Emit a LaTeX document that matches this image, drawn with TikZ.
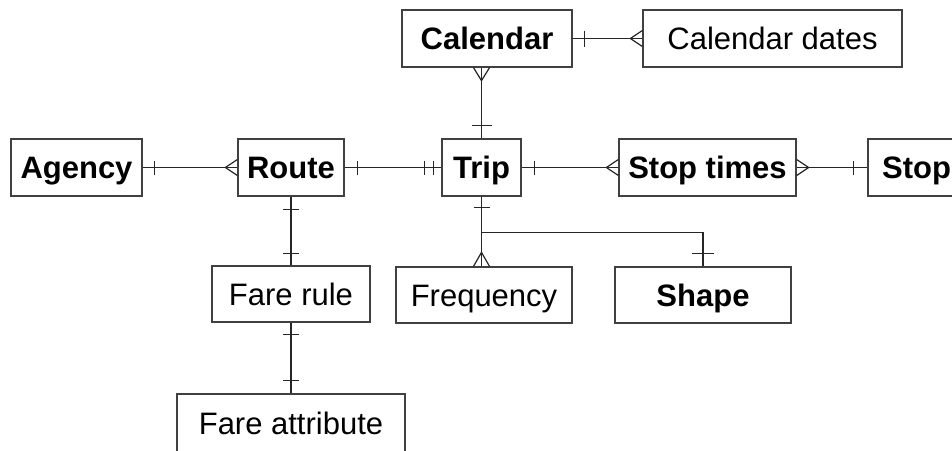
\documentclass[tikz,border=0pt]{standalone}
\usepackage{fontspec}
\setmainfont{Liberation Sans}
\usetikzlibrary{calc}
\begin{document}
\begin{tikzpicture}[x=1pt,y=-1pt,
  entity/.style={draw=black!75, line width=1.3pt, fill=white, inner sep=0pt,
    text height=22pt, text depth=0pt, minimum height=57pt,
    font=\fontsize{31}{37}\selectfont},
  strong/.style={entity, font=\fontsize{31}{37}\selectfont\bfseries},
  rel/.style={draw=black!85, line width=1.2pt}]
\useasboundingbox (0,0) rectangle (952,450);
\clip (0,0) rectangle (952,450);

% entities
\node[strong, minimum width=170pt] (cal)   at (487,38.5)  {Calendar};
\node[entity, minimum width=259pt] (dates) at (772.5,38.5) {Calendar dates};
\node[strong, minimum width=131pt] (ag)    at (76.5,167.5) {Agency};
\node[strong, minimum width=106pt] (route) at (291,167.5)  {Route};
\node[strong, minimum width=79pt]  (trip)  at (481.5,167.5) {Trip};
\node[strong, minimum width=177pt] (st)    at (707.5,167.5) {Stop times};
\node[strong, minimum width=97pt]  (stop)  at (916.5,167.5) {Stop};
\node[entity, minimum width=158pt, minimum height=56pt] (fr)   at (291,294) {Fare rule};
\node[entity, minimum width=176pt, minimum height=56pt] (freq) at (484,295) {Frequency};
\node[strong, minimum width=176pt, minimum height=56pt] (shape) at (703,295) {Shape};
\node[entity, minimum width=228pt, minimum height=58pt] (fa)   at (291,423) {Fare attribute};

% Calendar -- Calendar dates (one to many)
\draw[rel] (cal.east) -- (dates.west);
\draw[rel] ([xshift=12pt]cal.east) ++(0,-8) -- ++(0,16);
\draw[rel] (dates.west) ++(-12,0) -- ++(12,-8) ++(-12,8) -- ++(12,8);

% Calendar -- Trip (many to one)
\coordinate (ct) at (trip.north |- cal.south);
\draw[rel] (ct) -- (trip.north);
\draw[rel] (ct) ++(0,13) -- ++(-8,-13) ++(8,13) -- ++(8,-13);
\draw[rel] (trip.north) ++(-10,-13) -- ++(20,0);

% Agency -- Route (one to many)
\draw[rel] (ag.east) -- (route.west);
\draw[rel] (ag.east) ++(12,-7) -- ++(0,14);
\draw[rel] (route.west) ++(-12,0) -- ++(12,-8) ++(-12,8) -- ++(12,8);

% Route -- Trip (one to exactly one)
\draw[rel] (route.east) -- (trip.west);
\draw[rel] (route.east) ++(13,-7) -- ++(0,14);
\draw[rel] (trip.west) ++(-17,-7) -- ++(0,14);
\draw[rel] (trip.west) ++(-8,-7) -- ++(0,14);

% Trip -- Stop times (one to many)
\draw[rel] (trip.east) -- (st.west);
\draw[rel] (trip.east) ++(13,-7) -- ++(0,14);
\draw[rel] (st.west) ++(-12,0) -- ++(12,-8) ++(-12,8) -- ++(12,8);

% Stop times -- Stop (many to one)
\draw[rel] (st.east) -- (stop.west);
\draw[rel] (st.east) ++(12,0) -- ++(-12,-8) ++(12,8) -- ++(-12,8);
\draw[rel] (stop.west) ++(-14,-7) -- ++(0,14);

% Route -- Fare rule -- Fare attribute
\draw[rel] (route.south) -- (fr.north);
\draw[rel] (route.south) ++(-8,13) -- ++(16,0);
\draw[rel] (fr.north) ++(-8,-12) -- ++(16,0);
\draw[rel] (fr.south) -- (fa.north);
\draw[rel] (fr.south) ++(-8,12) -- ++(16,0);
\draw[rel] (fa.north) ++(-8,-13) -- ++(16,0);

% Trip -- Frequency (one to many) and Trip -- Shape (one to one)
\coordinate (br) at ($(trip.south)+(0,35.5)$);
\coordinate (fq) at (trip.south |- freq.north);
\draw[rel] (trip.south) -- (fq);
\draw[rel] (trip.south) ++(-8,11) -- ++(16,0);
\draw[rel] (fq) ++(0,-14) -- ++(-8,14) ++(8,-14) -- ++(8,14);
\draw[rel] (br) -| (shape.north);
\draw[rel] (shape.north) ++(-11,-13) -- ++(22,0);
\end{tikzpicture}
\end{document}
